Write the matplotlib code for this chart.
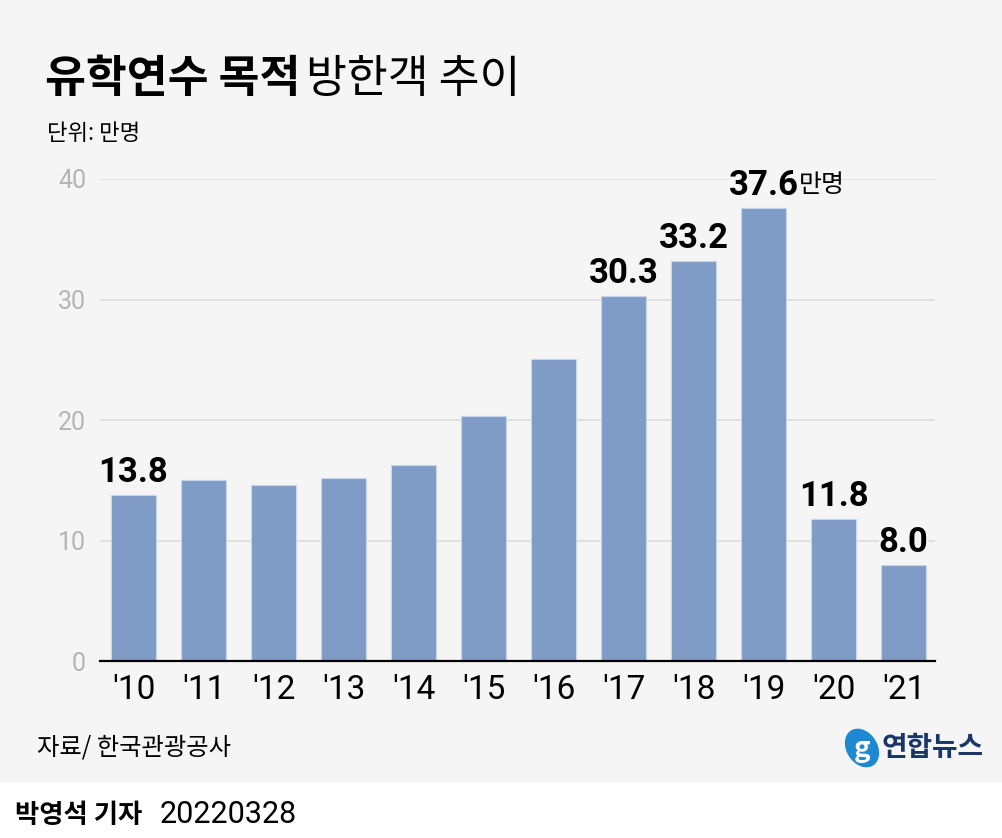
# Recreation of the "유학연수 목적 방한객 추이" bar chart
import matplotlib.pyplot as plt
from matplotlib.patches import Rectangle, Ellipse

FONT = ["Noto Sans CJK KR", "DejaVu Sans"]
NUM_FONT = ["Roboto", "Noto Sans CJK KR"]
BG = "#f5f5f5"
BAR_COLOR = "#7f9cc6"

years = ["'10", "'11", "'12", "'13", "'14", "'15", "'16", "'17", "'18", "'19", "'20", "'21"]
visitors = [13.8, 15.0, 14.6, 15.2, 16.3, 20.3, 25.1, 30.3, 33.2, 37.6, 11.8, 8.0]
labelled = ["'10", "'17", "'18", "'19", "'20", "'21"]
y_ticks = [0, 10, 20, 30, 40]

plt.rcParams["font.family"] = FONT
fig = plt.figure(figsize=(10.03, 8.38), dpi=100, facecolor="white")

# gray panel behind everything except the byline strip
fig.patches.append(Rectangle((0, 0.0656), 1, 1 - 0.0656, transform=fig.transFigure,
                             facecolor=BG, edgecolor="none", zorder=-10))

ax = fig.add_axes([0.0997, 0.2112, 0.8325, 0.5752])
ax.set_facecolor("none")
x = list(range(len(years)))
ax.bar(x, visitors, width=0.643, color=BAR_COLOR, edgecolor="#c9d5e8", linewidth=0.8, zorder=3)
ax.set_xlim(-0.479, 11.45)
ax.set_ylim(0, 40)
ax.set_yticks(y_ticks)
ax.set_xticks(x)
ax.set_xticklabels(years, family=NUM_FONT, fontsize=24, color="black")
ax.set_yticklabels([str(v) for v in y_ticks], family=NUM_FONT, fontsize=18, color="#b4b4b4")
ax.grid(axis="y", color="#e0e0e0", linewidth=1.5, zorder=0)
for side in ["top", "right", "left"]:
    ax.spines[side].set_visible(False)
ax.spines["bottom"].set_linewidth(1.6)
ax.spines["bottom"].set_color("black")
ax.spines["bottom"].set_zorder(4)
ax.tick_params(axis="y", length=0, pad=10)
ax.tick_params(axis="x", length=0, pad=9)

for i, year in enumerate(years):
    if year not in labelled:
        continue
    t = ax.annotate(f"{visitors[i]:.1f}", xy=(i, visitors[i]), xytext=(0, 4),
                    textcoords="offset points", ha="center", va="bottom",
                    fontsize=25, fontweight="bold", family=NUM_FONT, color="black", zorder=5,
                    bbox=dict(facecolor=BG, edgecolor="none", pad=0))
    if year == "'19":
        ax.annotate("만명", xy=(1, 0.12), xycoords=t, ha="left", va="bottom",
                    fontsize=18, color="black", zorder=5)

# title: bold part then regular part
fig.canvas.draw()
renderer = fig.canvas.get_renderer()
title_bold = fig.text(45 / 1003, 1 - 92 / 838, "유학연수 목적", fontsize=32,
                      fontweight="bold", ha="left", va="baseline")
bb = title_bold.get_window_extent(renderer)
fig.text(bb.x1 / fig.bbox.width + 0.006, 1 - 92 / 838, "방한객 추이", fontsize=32,
         ha="left", va="baseline")

fig.text(47 / 1003, 1 - 140 / 838, "단위: 만명", fontsize=16, ha="left", va="baseline")
fig.text(37 / 1003, 1 - 754 / 838, "자료/ 한국관광공사", fontsize=17.5, ha="left", va="baseline")

# byline strip
fig.text(15 / 1003, 1 - 823 / 838, "박영석 기자", fontsize=19, fontweight="bold",
         ha="left", va="baseline")
fig.text(160 / 1003, 1 - 823 / 838, "20220328", fontsize=22, family=NUM_FONT,
         ha="left", va="baseline")

# logo
fig.patches.append(Ellipse((862 / 1003, 1 - 748 / 838), 32 / 1003, 40 / 838,
                           angle=20, transform=fig.transFigure,
                           facecolor="#1e88d0", edgecolor="none"))
fig.text(862 / 1003, 1 - 749 / 838, "g", fontsize=20, fontstyle="italic",
         fontweight="bold", color="white", ha="center", va="center")
fig.text(882 / 1003, 1 - 748 / 838, "연합뉴스", fontsize=20, fontweight="bold",
         color="#1a3668", ha="left", va="center")

fig.savefig("out.png", dpi=100, facecolor="white")
